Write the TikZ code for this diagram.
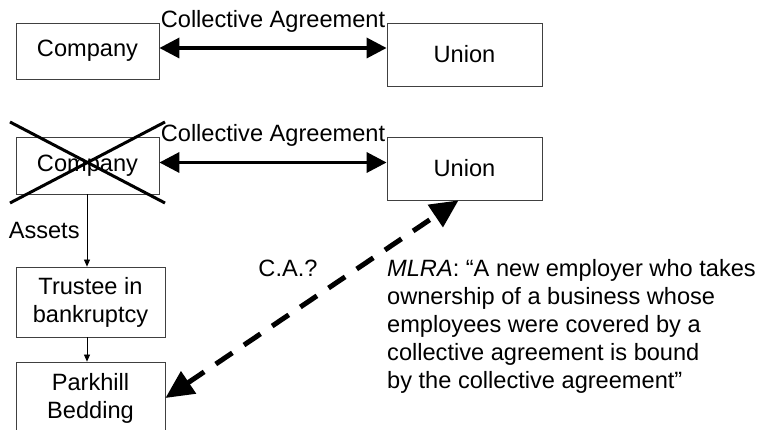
\documentclass[tikz,border=0pt]{standalone}
\usepackage{fontspec}
\setmainfont{Liberation Sans}
\usetikzlibrary{arrows.meta,%
		positioning}

\begin{document}
\begin{tikzpicture}[x=1pt,y=-1pt,font=\fontsize{23.6}{28}\selectfont,
  box/.style={draw=black!75,line width=0.8pt,align=center,inner sep=0pt},
  deal/.style={line width=3.5pt,{Triangle[length=20pt,width=20pt]}-{Triangle[length=20pt,width=20pt]}},
  flow/.style={line width=0.8pt,-{Triangle[length=7pt,width=6pt]}},
  tag/.style={inner sep=0pt}]
  \useasboundingbox (0,0) rectangle (761,430);
  % before
  \node[box,minimum width=143pt,minimum height=56pt] (company) at (87.5,51) {Company};
  \node[box,minimum width=155pt,minimum height=63pt] (union) at (464.5,54.5) {Union};
  \draw[deal] ([yshift=3pt]company.east) -- ([yshift=3pt]company.east -| union.west)
    node[tag,midway,above=14pt] (ca) {Collective Agreement};

  % after the bankruptcy
  \node[box,minimum width=143pt,minimum height=57pt] (company2) at (87.5,165.5) {Company};
  \node[box,minimum width=155pt,minimum height=63pt] (union2) at (464.5,168.5) {Union};
  \draw[deal] ([yshift=3pt]company2.east) -- ([yshift=3pt]company2.east -| union2.west)
    node[tag,midway,above=14pt] (ca2) {Collective Agreement};
  \draw[line width=3pt] (10,122) -- (165,203) (165,122) -- (10,203); %crossed out

  \node[box,minimum width=149pt,minimum height=70pt] (trustee) at (90.5,302) {Trustee in\\bankruptcy};
  \node[box,minimum width=149pt,minimum height=72pt] (parkhill) at (90.5,398) {Parkhill\\Bedding};
  \draw[flow] (company2.south -| 87,0) -- (trustee.north -| 87,0)
    node[tag,midway,left=7pt] (assets) {Assets};
  \draw[flow] (trustee.south -| 87,0) -- (parkhill.north -| 87,0);

  \draw[line width=5pt,dash pattern=on 20pt off 14pt,
    {Triangle[length=28pt,width=26pt]}-{Triangle[length=28pt,width=26pt]}]
    (parkhill.east) -- ([xshift=-6pt]union2.south);
  \node[tag] (q) at (288,268) {C.A.?};
  \node[tag,anchor=north west,align=left] (mlra) at (387,259)
    {\textit{MLRA}: \char"201C A new employer who takes\\ownership of a business whose\\employees were covered by a\\collective agreement is bound\\by the collective agreement\char"201D};
\end{tikzpicture}
\end{document}
